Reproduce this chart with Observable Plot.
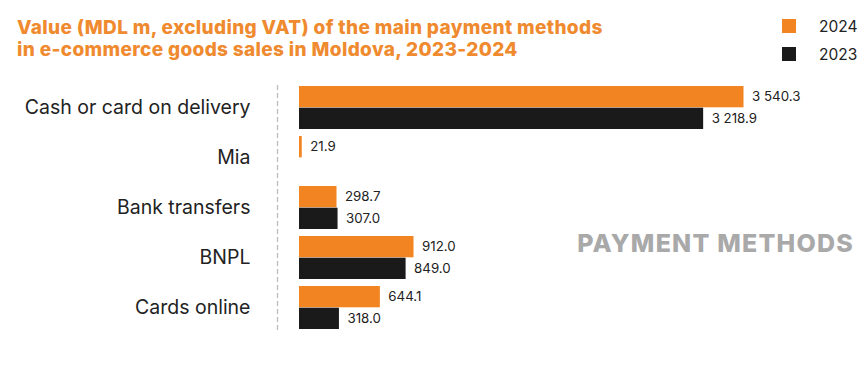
<!DOCTYPE html>
<html>
<head>
<meta charset="utf-8">
<script src="https://cdn.jsdelivr.net/npm/d3@7"></script>
<script src="https://cdn.jsdelivr.net/npm/@observablehq/plot@0.6"></script>
<style>
  html, body { margin: 0; padding: 0; background: #fff; }
  #wrap { position: relative; width: 867px; height: 369px; overflow: hidden; font-family: Inter, "Noto Sans", sans-serif; }
  #title { position: absolute; left: 17px; top: 17px; color: #ef8a2f; font-weight: 800; font-size: 19px; line-height: 22px; letter-spacing: 0.35px; }
  #legend { position: absolute; left: 782px; top: 12px; font-size: 15.5px; color: #222; }
  .li { display: flex; align-items: center; height: 28px; }
  .sw { width: 14px; height: 14px; margin-right: 23px; }
  #watermark { position: absolute; right: 13px; top: 228px; font-size: 25px; font-weight: 800; color: #a9a9a9; letter-spacing: 1.2px; }
  #chart { position: absolute; left: 0; top: 70px; }
</style>
</head>
<body>
<div id="wrap">
  <div id="title"></div>
  <div id="legend"></div>
  <div id="chart"></div>
  <div id="watermark">PAYMENT METHODS</div>
</div>
<script>
const titleLines = ["Value (MDL m, excluding VAT) of the main payment methods", "in e-commerce goods sales in Moldova, 2023-2024"];
const categories = ["Cash or card on delivery", "Mia", "Bank transfers", "BNPL", "Cards online"];
const years = ["2024", "2023"];
const v2024 = [3540.3, 21.9, 298.7, 912.0, 644.1];
const v2023 = [3218.9, null, 307.0, 849.0, 318.0];
const colors = ["#f28522", "#1a1a1a"];

document.getElementById("title").innerHTML = titleLines.join("<br>");
document.getElementById("legend").innerHTML = years.map((y, i) =>
  `<div class="li"><div class="sw" style="background:${colors[i]}"></div><span>${y}</span></div>`).join("");

const rows = [];
categories.forEach((c, i) => {
  if (v2024[i] != null) rows.push({cat: c, year: "2024", value: v2024[i]});
  if (v2023[i] != null) rows.push({cat: c, year: "2023", value: v2023[i]});
});
const r24 = rows.filter(d => d.year === "2024");
const r23 = rows.filter(d => d.year === "2023");
const fmt = d3.formatLocale({decimal: ".", thousands: " ", grouping: [3]}).format(",.1f");

const H = 290, padding = 0.14;
const half = 21.7;

const chart = Plot.plot({
  width: 867,
  height: H,
  marginLeft: 299,
  marginRight: 116,
  marginTop: 8,
  marginBottom: 22.4,
  style: {fontFamily: "Inter, 'Noto Sans', sans-serif", color: "#222", background: "transparent"},
  x: {domain: [0, 3600], axis: null},
  y: {domain: categories, padding: padding, label: null},
  marks: [
    Plot.ruleX([0], {dx: -22, stroke: "#bdbdbd", strokeWidth: 1.3, strokeDasharray: "5,3", insetTop: 7, insetBottom: 7}),
    Plot.barX(r24, {x: "value", y: "cat", fill: colors[0], insetBottom: half}),
    Plot.barX(r23, {x: "value", y: "cat", fill: colors[1], insetTop: half}),
    Plot.text(r24, {x: "value", y: "cat", text: d => fmt(d.value), dx: 8, dy: -11, textAnchor: "start", fontSize: 13.3, fill: "#222"}),
    Plot.text(r23, {x: "value", y: "cat", text: d => fmt(d.value), dx: 8, dy: 11, textAnchor: "start", fontSize: 13.3, fill: "#222"}),
    Plot.axisY({tickSize: 0, tickPadding: 49, fontSize: 19.5, label: null})
  ]
});
document.getElementById("chart").appendChild(chart);
</script>
</body>
</html>
